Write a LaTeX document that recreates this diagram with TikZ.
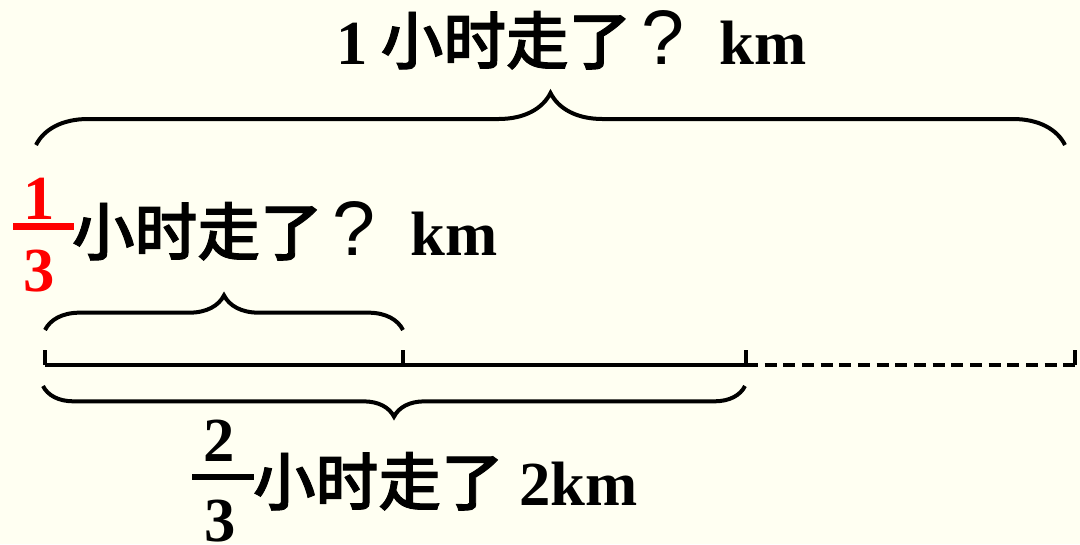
\documentclass[tikz,border=0pt]{standalone}
\usepackage{fontspec}
\setmainfont{Liberation Serif}
\setsansfont{Liberation Sans}
\IfFontExistsTF{Noto Sans CJK SC Medium}
  {\newfontfamily\cjkface{Noto Sans CJK SC Medium}[FakeBold=1.5]\newcommand{\cn}{\cjkface\mdseries}}
  {\newfontfamily\cjkface{Noto Sans CJK SC}\newcommand{\cn}{\cjkface\bfseries}}
\usetikzlibrary{decorations.pathreplacing}
\definecolor{paper}{RGB}{255,255,242}
\newcommand{\qmark}{\makebox[47pt]{\fontsize{58}{60}\selectfont\mdseries\sffamily ?}}

\begin{document}
\begin{tikzpicture}[x=0.75pt, y=-0.75pt, line width=3pt,
    brc/.style={decorate, decoration={brace, amplitude=#1}},
    txt/.style={inner sep=0pt, font=\fontsize{47}{56}\selectfont\bfseries}]
  \fill[paper] (0,0) rectangle (1080,544);
  \useasboundingbox (0,0) rectangle (1080,544);

  % the line
  \coordinate (p0) at (45,365);
  \coordinate (p1) at (403,365);
  \coordinate (p2) at (746,365);
  \coordinate (p3) at (1075,365);
  \draw (p0) -- (p2);
  \draw[dash pattern=on 9pt off 5pt] (p2) -- (p3);
  \foreach \p in {p0,p1,p2,p3}
    \draw (\p) -- ++(0,-15);

  % braces
  \draw[brc=39pt] (36,145) -- (1065,145);
  \draw[brc=26pt] (45,330) -- (403,330);
  \draw[brc=23pt] (745,386) -- (43,386);

  % top text
  \node[txt, anchor=base west] (whole) at (334,64)
    {1\kern10pt{\cn 小时走了}\qmark\kern19pt km};

  % one third
  \node[txt, red, anchor=base] (oneN) at (39,219) {1};
  \node[txt, red, anchor=base] (oneD) at (39,291) {3};
  \draw[red, line width=5.25pt] (13,226.5) -- (74,226.5);
  \node[txt, anchor=base west] (third) at (70,255)
    {{\cn 小时走了}\qmark\kern19pt km};

  % two thirds
  \node[txt, anchor=base] (twoN) at (219,461) {2};
  \node[txt, anchor=base] (twoD) at (220,541) {3};
  \draw[line width=4.5pt] (192,477) -- (254,477);
  \node[txt, anchor=base west] (twothirds) at (251,505)
    {{\cn 小时走了} 2km};
\end{tikzpicture}
\end{document}
